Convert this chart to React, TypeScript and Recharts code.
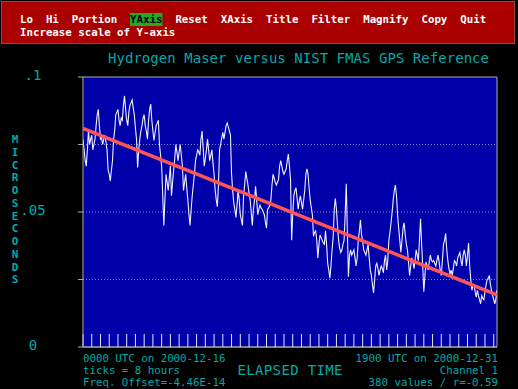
import {
  CartesianGrid,
  ComposedChart,
  Line,
  ReferenceLine,
  XAxis,
  YAxis,
} from "recharts";

// hourly phase offset, microseconds, 0000 UTC 2000-12-16 .. 1900 UTC 2000-12-31
const offsetUs = [
  0.077, 0.073, 0.069, 0.067, 0.073, 0.08, 0.075, 0.077, 0.0785, 0.073,
  0.075, 0.077, 0.082, 0.086, 0.088, 0.082, 0.077, 0.0775, 0.075, 0.077,
  0.0785, 0.076, 0.073, 0.0655, 0.064, 0.0615, 0.0655, 0.069, 0.077, 0.08,
  0.086, 0.087, 0.088, 0.084, 0.082, 0.0848, 0.084, 0.0895, 0.093, 0.088,
  0.084, 0.082, 0.087, 0.0895, 0.0905, 0.0915, 0.0885, 0.086, 0.081, 0.077,
  0.0665, 0.073, 0.077, 0.08, 0.082, 0.0848, 0.086, 0.082, 0.08, 0.077,
  0.0835, 0.088, 0.09, 0.084, 0.08, 0.0765, 0.0795, 0.082, 0.083, 0.084,
  0.075, 0.071, 0.067, 0.056, 0.045, 0.0545, 0.064, 0.061, 0.058, 0.0625,
  0.067, 0.056, 0.061, 0.0655, 0.0698, 0.075, 0.0722, 0.069, 0.0722, 0.075,
  0.071, 0.067, 0.058, 0.061, 0.064, 0.0588, 0.0545, 0.049, 0.045, 0.051,
  0.056, 0.06, 0.064, 0.069, 0.071, 0.073, 0.0722, 0.071, 0.077, 0.08,
  0.0738, 0.067, 0.0698, 0.073, 0.077, 0.073, 0.069, 0.071, 0.073, 0.0682,
  0.064, 0.058, 0.0545, 0.052, 0.06, 0.073, 0.075, 0.0775, 0.0795, 0.077,
  0.0795, 0.082, 0.083, 0.0815, 0.08, 0.0785, 0.064, 0.058, 0.0535, 0.051,
  0.048, 0.0525, 0.058, 0.0545, 0.049, 0.047, 0.045, 0.056, 0.06, 0.065,
  0.0625, 0.06, 0.057, 0.0545, 0.05, 0.045, 0.051, 0.0545, 0.0595, 0.0545,
  0.049, 0.051, 0.0525, 0.0515, 0.051, 0.05, 0.049, 0.0462, 0.044, 0.051,
  0.0515, 0.0525, 0.0545, 0.06, 0.064, 0.0625, 0.061, 0.06, 0.061, 0.062,
  0.067, 0.069, 0.067, 0.065, 0.064, 0.065, 0.066, 0.069, 0.0715, 0.067,
  0.062, 0.0395, 0.049, 0.056, 0.058, 0.059, 0.055, 0.051, 0.054, 0.056,
  0.0535, 0.051, 0.0545, 0.058, 0.064, 0.066, 0.064, 0.0588, 0.0545, 0.0515,
  0.049, 0.041, 0.0425, 0.043, 0.0395, 0.033, 0.038, 0.0415, 0.0405, 0.0395,
  0.0385, 0.038, 0.043, 0.038, 0.031, 0.0285, 0.0255, 0.03, 0.036, 0.0405,
  0.051, 0.055, 0.051, 0.045, 0.0395, 0.0365, 0.035, 0.036, 0.038, 0.0395,
  0.049, 0.0605, 0.043, 0.026, 0.034, 0.036, 0.034, 0.035, 0.036, 0.033,
  0.03, 0.033, 0.0395, 0.043, 0.047, 0.0415, 0.039, 0.036, 0.035, 0.034,
  0.036, 0.038, 0.033, 0.0285, 0.0265, 0.023, 0.02, 0.025, 0.03, 0.031,
  0.029, 0.0265, 0.0285, 0.03, 0.029, 0.0275, 0.032, 0.034, 0.0285, 0.032,
  0.0395, 0.0425, 0.046, 0.05, 0.0545, 0.058, 0.06, 0.056, 0.049, 0.044,
  0.0395, 0.035, 0.0395, 0.044, 0.046, 0.0415, 0.038, 0.036, 0.0315, 0.0265,
  0.03, 0.033, 0.0315, 0.029, 0.032, 0.036, 0.034, 0.032, 0.0395, 0.0475,
  0.038, 0.03, 0.0205, 0.0265, 0.0315, 0.03, 0.0285, 0.0315, 0.034, 0.032,
  0.0315, 0.032, 0.031, 0.03, 0.032, 0.034, 0.0315, 0.0285, 0.0265, 0.032,
  0.038, 0.0395, 0.042, 0.036, 0.032, 0.029, 0.027, 0.0285, 0.0265, 0.029,
  0.032, 0.0315, 0.03, 0.033, 0.034, 0.035, 0.032, 0.03, 0.034, 0.036,
  0.034, 0.03, 0.034, 0.0385, 0.03, 0.025, 0.021, 0.023, 0.023, 0.0205,
  0.0185, 0.021, 0.019, 0.0175, 0.016, 0.019, 0.018, 0.0175, 0.0205, 0.023,
  0.025, 0.0255, 0.0265, 0.023, 0.021, 0.019, 0.0175, 0.016, 0.018, 0.021,
];

// fitted trend, read at the two ends of the plot
const trendHours = [0, 379];
const trendUs = [0.081, 0.0193];

// ticks = 8 hours
const tickHours = [
  0, 8, 16, 24, 32, 40, 48, 56, 64, 72, 80, 88, 96, 104, 112, 120, 128, 136,
  144, 152, 160, 168, 176, 184, 192, 200, 208, 216, 224, 232, 240, 248, 256,
  264, 272, 280, 288, 296, 304, 312, 320, 328, 336, 344, 352, 360, 368, 376,
];
const yTicks = [0, 0.025, 0.05, 0.075, 0.1];
const yGrid = [0.025, 0.05, 0.075];
const yLabels: Record<string, string> = { "0": "0", "0.05": ".05", "0.1": ".1" };

const menuItems = ["Lo", "Hi", "Portion", "YAxis", "Reset", "XAxis", "Title", "Filter", "Magnify", "Copy", "Quit"];
const activeItem = "YAxis";
const menuHint = "Increase scale of Y-axis";
const title = "Hydrogen Maser versus NIST FMAS GPS Reference";
const yTitle = "MICROSECONDS";
const xTitle = "ELAPSED TIME";
const footLeft = ["0000 UTC on 2000-12-16", "ticks = 8 hours", "Freq. Offset=-4.46E-14"];
const footRight = ["1900 UTC on 2000-12-31", "Channel 1", "380 values / r=-0.59"];

const W = 518;
const H = 389;
const CYAN = "#00aaaa";
const GRAY = "#aaaaaa";
const MONO = "'DejaVu Sans Mono', monospace";
const CH = 6.475; // one character cell of the dos font

const data = offsetUs.map((us, hour) => ({ hour, us }));
const trend = trendHours.map((hour, i) => ({ hour, us: trendUs[i] }));

function YTick({ y, payload }: any) {
  const label = yLabels[String(payload.value)];
  if (!label) return <g />;
  return (
    <text x={33} y={y} dy={3} textAnchor="middle" fill={CYAN} fontFamily={MONO} fontSize={14}>
      {label}
    </text>
  );
}

function Overlay() {
  let col = 0;
  const items = menuItems.map((item) => {
    const x = 20 + col * CH;
    col += item.length + 2;
    return { item, x };
  });
  return (
    <svg width={W} height={H} style={{ position: "absolute", left: 0, top: 0, pointerEvents: "none" }}>
      <rect x={1.5} y={1.5} width={W - 5} height={42} fill="#aa0000" stroke="#8a4a4a" />
      {items.map(({ item, x }) =>
        item === activeItem ? (
          <g key={item}>
            <rect x={x} y={13} width={item.length * CH} height={13} fill="#22aa22" />
            <text x={x} y={23} fill="#000000" fontFamily={MONO} fontSize={10.75} fontWeight="bold">
              {item}
            </text>
          </g>
        ) : (
          <text key={item} x={x} y={23} fill="#ffffff" fontFamily={MONO} fontSize={10.75} fontWeight="bold">
            {item}
          </text>
        )
      )}
      <text x={20} y={36} fill="#ffffff" fontFamily={MONO} fontSize={10.75} fontWeight="bold">
        {menuHint}
      </text>
      <text x={108} y={63} fill={CYAN} fontFamily={MONO} fontSize={14} textLength={381} lengthAdjust="spacing">
        {title}
      </text>
      {yTitle.split("").map((c, i) => (
        <text key={i} x={15} y={143 + i * 12.75} fill={CYAN} fontFamily={MONO} fontSize={11} fontWeight="bold" textAnchor="middle">
          {c}
        </text>
      ))}
      <text x={290} y={375} fill={CYAN} fontFamily={MONO} fontSize={14} textAnchor="middle" textLength={105} lengthAdjust="spacing">
        {xTitle}
      </text>
      {footLeft.map((t, i) => (
        <text key={t} x={83} y={362 + i * 12} fill={CYAN} fontFamily={MONO} fontSize={10.75}>
          {t}
        </text>
      ))}
      {footRight.map((t, i) => (
        <text key={t} x={498} y={362 + i * 12} fill={CYAN} fontFamily={MONO} fontSize={10.75} textAnchor="end">
          {t}
        </text>
      ))}
    </svg>
  );
}

export default function App() {
  return (
    <div style={{ position: "absolute", left: 0, top: 0, width: W, height: H, background: "#000000", overflow: "hidden" }}>
      <ComposedChart width={W} height={H} data={data} margin={{ top: 77, right: 21, bottom: 42, left: 0 }}>
        <CartesianGrid horizontal={false} vertical={false} fill="#0000aa" fillOpacity={1} />
        {yGrid.map((v) => (
          <ReferenceLine key={v} y={v} stroke="#8080c8" strokeDasharray="1 2" />
        ))}
        <ReferenceLine y={0.1} stroke={GRAY} />
        <ReferenceLine x={379} stroke={GRAY} />
        <XAxis
          type="number"
          dataKey="hour"
          domain={[0, 379]}
          ticks={tickHours}
          interval={0}
          mirror
          height={1}
          tickSize={13}
          tick={() => <g />}
          tickLine={{ stroke: "#e6e6ff", strokeWidth: 1 }}
          axisLine={{ stroke: GRAY, strokeWidth: 1.5 }}
          allowDataOverflow
        />
        <YAxis
          type="number"
          domain={[0, 0.1]}
          ticks={yTicks}
          width={83}
          tickSize={5}
          tick={<YTick />}
          tickLine={{ stroke: GRAY }}
          axisLine={{ stroke: GRAY }}
          allowDataOverflow
        />
        <Line
          dataKey="us"
          type="linear"
          stroke="#f0f0ff"
          strokeWidth={1.1}
          dot={false}
          isAnimationActive={false}
        />
        <Line
          data={trend}
          dataKey="us"
          type="linear"
          stroke="#ff5555"
          strokeWidth={3.5}
          dot={false}
          isAnimationActive={false}
        />
      </ComposedChart>
      <Overlay />
    </div>
  );
}
